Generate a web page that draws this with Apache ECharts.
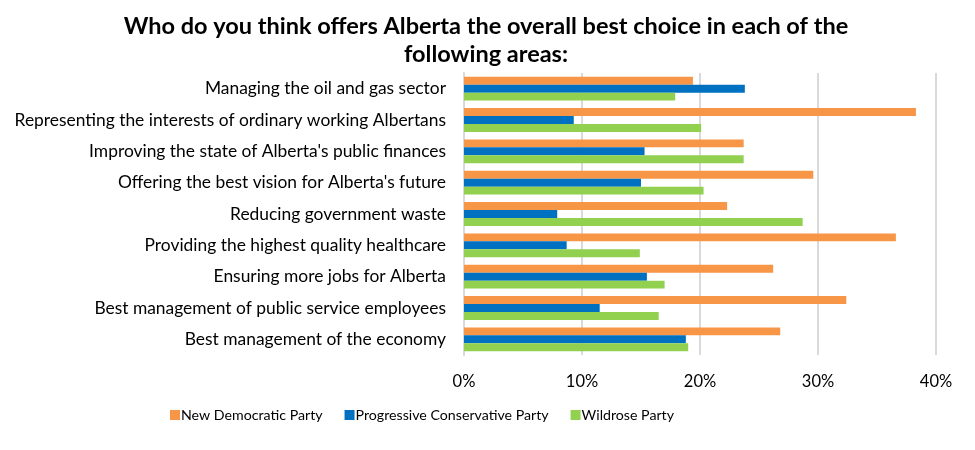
<!DOCTYPE html>
<html><head><meta charset="utf-8">
<script src="https://cdn.jsdelivr.net/npm/echarts@6/dist/echarts.min.js"></script>
<style>html,body{margin:0;padding:0;background:#fff}#c{width:975px;height:450px}</style>
</head><body><div id="c"></div>
<script>
const categories = [
  "Managing the oil and gas sector",
  "Representing the interests of ordinary working Albertans",
  "Improving the state of Alberta's public finances",
  "Offering the best vision for Alberta's future",
  "Reducing government waste",
  "Providing the highest quality healthcare",
  "Ensuring more jobs for Alberta",
  "Best management of public service employees",
  "Best management of the economy"
];
const ndp = [19.4, 38.3, 23.7, 29.6, 22.3, 36.6, 26.2, 32.4, 26.8];
const pc  = [23.8, 9.3, 15.3, 15.0, 7.9, 8.7, 15.5, 11.5, 18.8];
const wr  = [17.9, 20.1, 23.7, 20.3, 28.7, 14.9, 17.0, 16.5, 19.0];
const seriesNames = ["New Democratic Party", "Progressive Conservative Party", "Wildrose Party"];
const xTicks = [0, 10, 20, 30, 40];

const font = "Lato";
const chart = echarts.init(document.getElementById('c'));
chart.setOption({
  animation: false,
  title: {
    text: "Who do you think offers Alberta the overall best choice in each of the\nfollowing areas:",
    left: 481, top: 7, textAlign: 'center',
    textStyle: {fontFamily: font, fontWeight: 'bold', fontSize: 23.5, color: '#000', lineHeight: 28}
  },
  legend: {
    bottom: 23, left: 165, itemWidth: 10, itemHeight: 10, itemGap: 22,
    icon: 'rect',
    textStyle: {fontFamily: font, fontSize: 14.2, color: '#000', padding: [0,0,0,-4]},
    data: seriesNames
  },
  grid: {left: 464, right: 39, top: 73, bottom: 95, containLabel: false},
  xAxis: {
    type: 'value', min: xTicks[0], max: xTicks[xTicks.length-1], interval: 10,
    axisLine: {show: false}, axisTick: {show: false},
    splitLine: {lineStyle: {color: '#d9d9d9', width: 2}},
    axisLabel: {formatter: '{value}%', fontFamily: font, fontSize: 16.5, color: '#000', margin: 18}
  },
  yAxis: {
    type: 'category', data: categories, inverse: true,
    axisLine: {show: true, lineStyle: {color: '#d9d9d9', width: 2}},
    axisTick: {show: false},
    axisLabel: {fontFamily: font, fontSize: 17.4, color: '#000', margin: 18}
  },
  series: [
    {name: seriesNames[0], type: 'bar', data: ndp, itemStyle: {color: '#F79646'}, barGap: '0%', barCategoryGap: '24%'},
    {name: seriesNames[1], type: 'bar', data: pc, itemStyle: {color: '#0070C0'}, barGap: '0%', barCategoryGap: '24%'},
    {name: seriesNames[2], type: 'bar', data: wr, itemStyle: {color: '#92D050'}, barGap: '0%', barCategoryGap: '24%'}
  ]
});
</script></body></html>
